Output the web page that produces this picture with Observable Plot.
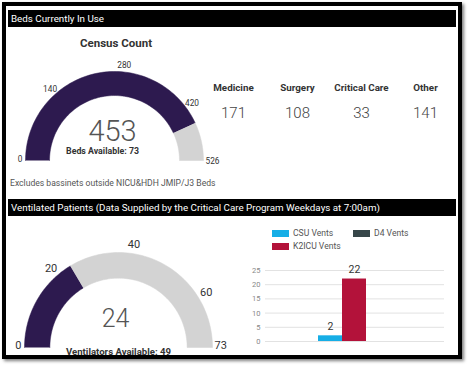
<!DOCTYPE html>
<html>
<head>
<meta charset="utf-8">
<script src="https://cdn.jsdelivr.net/npm/d3@7"></script>
<script src="https://cdn.jsdelivr.net/npm/@observablehq/plot@0.6"></script>
<style>
  body { margin: 0; background: #fff; font-family: Roboto, "Open Sans", sans-serif; }
  #wrap { position: relative; width: 468px; height: 367px; overflow: hidden; background: #fff; }
  .abs { position: absolute; }
  #frame { left: 2px; top: 2px; width: 460px; height: 357px; box-sizing: border-box; border: 4px solid #000; box-shadow: 2px 2px 3px rgba(0,0,0,0.5); }
  .hdr { left: 8px; width: 448px; height: 17px; background: #000; color: #fff; font-size: 9.8px; line-height: 17px; padding-left: 3px; box-sizing: border-box; white-space: nowrap; }
  #census { left: 0; width: 232px; top: 36px; text-align: center; font-weight: bold; font-size: 11.5px; color: #333; }
  #note { left: 10px; top: 178px; font-size: 8.6px; color: #555; white-space: nowrap; }
  #legend { left: 272px; top: 229px; display: grid; grid-template-columns: 81px auto; row-gap: 5px; font-size: 8.6px; color: #555; }
  .item { display: flex; align-items: center; white-space: nowrap; height: 8px; }
  .sw { width: 17px; height: 7px; margin-right: 4px; }
  svg { overflow: visible; }
</style>
</head>
<body>
<div id="wrap">
  <div id="frame" class="abs"></div>
  <div id="hdr1" class="abs hdr" style="top:10px"></div>
  <div id="census" class="abs"></div>
  <div id="g1" class="abs" style="left:0;top:55px"></div>
  <div id="stats" class="abs" style="left:200px;top:70px"></div>
  <div id="note" class="abs"></div>
  <div id="hdr2" class="abs hdr" style="top:199px"></div>
  <div id="g2" class="abs" style="left:0;top:228px"></div>
  <div id="legend" class="abs"></div>
  <div id="bars" class="abs" style="left:240px;top:222px"></div>
</div>
<script>
// ---- data ----
const header1 = "Beds Currently In Use";
const header2 = "Ventilated Patients (Data Supplied by the Critical Care Program Weekdays at 7:00am)";
const censusTitle = "Census Count";
const noteText = "Excludes bassinets outside NICU&HDH JMIP/J3 Beds";

const bedsInUse = 453;
const bedsMax = 526;
const bedsAvailable = 73;
const bedTicks = [140, 280, 420];

const serviceNames = ["Medicine", "Surgery", "Critical Care", "Other"];
const serviceCounts = [171, 108, 33, 141];

const ventsInUse = 24;
const ventsMax = 73;
const ventsAvailable = 49;
const ventTicks = [20, 40, 60];

const ventSeries = ["CSU Vents", "D4 Vents", "K2ICU Vents"];
const ventValues = [2, null, 22];
const ventColors = ["#16AEE6", "#374649", "#B3123A"];
const ventAxisTicks = [0, 5, 10, 15, 20, 25];

const PURPLE = "#2D1A4F";
const GRAY = "#D3D3D3";
const FONT = "Roboto, 'Open Sans', sans-serif";
const LIGHT = "'Roboto Light', 'Lato Light', 'Open Sans Light', Roboto, sans-serif";

// ---- text blocks ----
document.getElementById("hdr1").textContent = header1;
document.getElementById("hdr2").textContent = header2;
document.getElementById("census").textContent = censusTitle;
document.getElementById("note").textContent = noteText;

// ---- gauge ----
function arcPoints(f0, f1, rIn, rOut, n = 80) {
  const pts = [];
  for (let i = 0; i <= n; i++) {
    const a = Math.PI * (1 - (f0 + (f1 - f0) * i / n));
    pts.push({x: rOut * Math.cos(a), y: rOut * Math.sin(a)});
  }
  for (let i = n; i >= 0; i--) {
    const a = Math.PI * (1 - (f0 + (f1 - f0) * i / n));
    pts.push({x: rIn * Math.cos(a), y: rIn * Math.sin(a)});
  }
  return pts;
}

function gauge(o) {
  const f = o.value / o.max;
  const ang = d => Math.PI * (1 - d / o.max);
  return Plot.plot({
    width: o.width, height: o.height, margin: 0,
    style: {fontFamily: FONT, background: "transparent", overflow: "visible"},
    x: {domain: [-1, 1], range: o.xRange, axis: null},
    y: {domain: [0, 1], range: o.yRange, axis: null},
    marks: [
      Plot.line(arcPoints(0, f, o.inner, 1), {x: "x", y: "y", fill: PURPLE, stroke: PURPLE, strokeWidth: 0.5}),
      Plot.line(arcPoints(f, 1, o.inner, 1), {x: "x", y: "y", fill: GRAY, stroke: GRAY, strokeWidth: 0.5}),
      Plot.text(o.ticks, {x: d => o.tickR * Math.cos(ang(d)), y: d => o.tickR * Math.sin(ang(d)), text: d => String(d), fontSize: o.tickFont, fill: "#333"}),
      Plot.text([0], {x: -1, y: 0, text: d => String(d), textAnchor: "end", dx: -3, dy: o.endDy, fontSize: o.tickFont, fill: "#333"}),
      Plot.text([o.max], {x: 1, y: 0, text: d => String(d), textAnchor: "start", dx: 2, dy: o.endDy2, fontSize: o.tickFont, fill: "#333"}),
      Plot.text([o.value], {x: 0, y: 0, text: d => String(d), dx: o.valDx, dy: o.valDy, fontSize: o.valFont, fontWeight: 300, fontFamily: LIGHT, fill: "#555"}),
      Plot.text([o.available], {x: 0, y: 0, text: d => `${o.availLabel}: ${d}`, dx: o.avDx, dy: o.avDy, fontSize: o.avFont, fontWeight: "bold", fill: "#333"})
    ]
  });
}

document.getElementById("g1").append(gauge({
  value: bedsInUse, max: bedsMax, available: bedsAvailable, availLabel: "Beds Available",
  ticks: bedTicks, width: 235, height: 115, xRange: [25, 203], yRange: [105, 16],
  inner: 0.73, tickR: 1.08, tickFont: 8.3, endDy: -1, endDy2: 1,
  valFont: 29, valDx: -2, valDy: -29, avFont: 8.8, avDx: -12, avDy: -9
}));

document.getElementById("g2").append(gauge({
  value: ventsInUse, max: ventsMax, available: ventsAvailable, availLabel: "Ventilators Available",
  ticks: ventTicks, width: 240, height: 127, xRange: [24, 212], yRange: [119, 24],
  inner: 0.73, tickR: 1.1, tickFont: 11, endDy: -2, endDy2: -2,
  valFont: 25, valDx: -3, valDy: -29, avFont: 9.6, avDx: 0, avDy: 4
}));

// ---- service stats ----
const statRows = serviceNames.map((name, i) => ({name, count: serviceCounts[i]}));
document.getElementById("stats").append(Plot.plot({
  width: 268, height: 50, margin: 0,
  style: {fontFamily: FONT, background: "transparent", overflow: "visible"},
  x: {type: "point", domain: serviceNames, range: [32, 225], padding: 0, axis: null},
  marks: [
    Plot.text(statRows, {x: "name", text: "name", frameAnchor: "top", dy: 14, fontSize: 9.8, fontWeight: "bold", fill: "#333"}),
    Plot.text(statRows, {x: "name", text: d => String(d.count), frameAnchor: "top", dy: 37, fontSize: 15, fontWeight: 300, fontFamily: LIGHT, fill: "#444"})
  ]
}));

// ---- legend ----
const legend = document.getElementById("legend");
ventSeries.forEach((s, i) => {
  const it = document.createElement("div");
  it.className = "item";
  const sw = document.createElement("span");
  sw.className = "sw";
  sw.style.background = ventColors[i];
  const t = document.createElement("span");
  t.textContent = s;
  it.append(sw, t);
  legend.append(it);
});

// ---- bar chart ----
const ventRows = ventSeries.map((series, i) => ({series, value: ventValues[i]})).filter(d => d.value != null);
document.getElementById("bars").append(Plot.plot({
  width: 220, height: 130,
  marginLeft: 25, marginRight: 16, marginTop: 48, marginBottom: 11,
  style: {fontFamily: FONT, background: "transparent", overflow: "visible", color: "#888", fontSize: "7.5px"},
  x: {type: "band", domain: ventRows.map(d => d.series), range: [78, 126], padding: 0, axis: null},
  y: {domain: [0, 25], ticks: ventAxisTicks, tickSize: 0, tickPadding: 5, label: null},
  color: {domain: ventSeries, range: ventColors},
  marks: [
    Plot.ruleY(ventAxisTicks, {stroke: "#e2e2e2", strokeWidth: 1}),
    Plot.barY(ventRows, {x: "series", y: "value", fill: "series"}),
    Plot.text(ventRows, {x: "series", y: "value", text: d => String(d.value), lineAnchor: "bottom", dy: -6, fontSize: 10.5, fill: "#333"})
  ]
}));
</script>
</body>
</html>
